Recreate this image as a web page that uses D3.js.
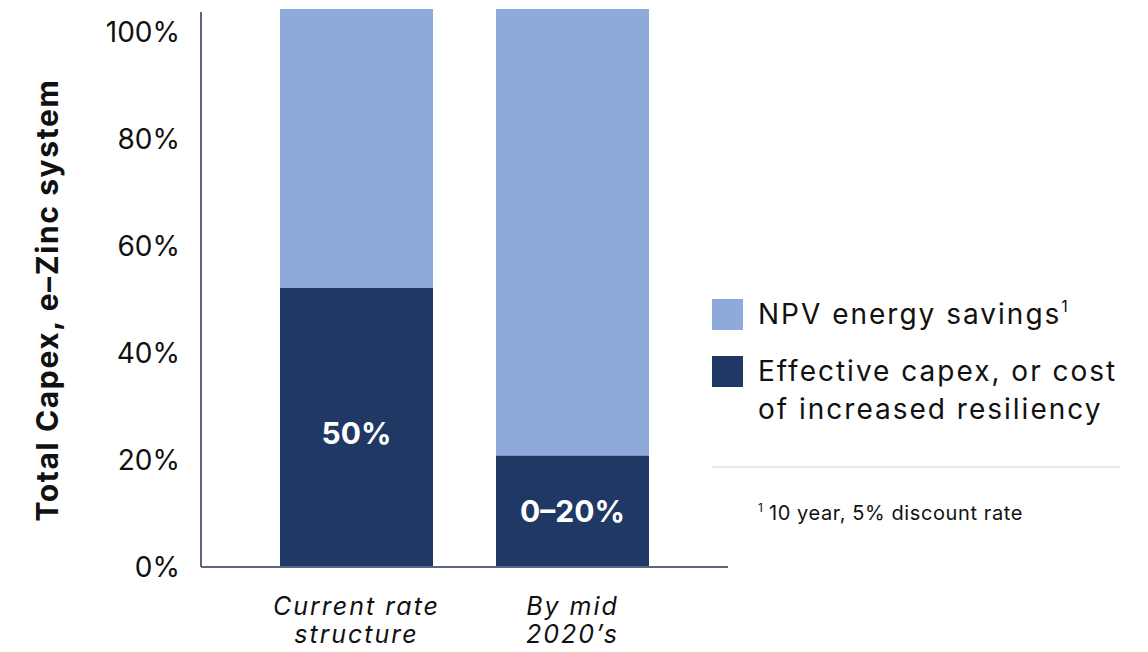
<!DOCTYPE html>
<html>
<head>
<meta charset="utf-8">
<script src="https://cdn.jsdelivr.net/npm/d3@7"></script>
<style>
  html, body { margin: 0; padding: 0; background: #fff; }
  svg { display: block; font-family: "Inter", "Open Sans", sans-serif; }
</style>
</head>
<body>
<svg id="chart" width="1148" height="652"></svg>
<script>
// Share of total e-Zinc system capex, per scenario
const categories = [["Current rate", "structure"], ["By mid", "2020\u2019s"]];
const capexShare = [50, 20];          // effective capex (dark)
const savingsShare = [50, 80];        // NPV energy savings (light)
const barLabels = ["50%", "0\u201320%"];
const tickValues = [0, 20, 40, 60, 80, 100];
const legendItems = [
  { key: "savings", lines: ["NPV energy savings"], sup: "1" },
  { key: "capex", lines: ["Effective capex, or cost", "of increased resiliency"] }
];
const footnote = "10 year, 5% discount rate";
const yTitle = "Total Capex, e\u2013Zinc system";

const colors = { savings: "#8eaadb", capex: "#203864" };
const axisColor = "#5a6684";

const svg = d3.select("#chart");

const plot = { left: 201, right: 728, bottom: 567, top: 9 };

const x = d3.scaleBand()
  .domain(d3.range(categories.length))
  .range([280, 649])
  .paddingInner(63 / 216)
  .paddingOuter(0);

// bars fill the full plot height
const yBar = d3.scaleLinear().domain([0, 100]).range([plot.bottom, plot.top]);
// tick labels run on their own slightly shorter scale
const yTick = d3.scaleLinear().domain([0, 100]).range([567.5, 33]);

const stacked = categories.map((c, i) => ({
  index: i,
  segments: [
    { key: "capex", y0: 0, y1: capexShare[i] },
    { key: "savings", y0: capexShare[i], y1: capexShare[i] + savingsShare[i] }
  ]
}));

const groups = svg.selectAll("g.bar")
  .data(stacked)
  .join("g")
  .attr("class", "bar")
  .attr("transform", d => `translate(${x(d.index)},0)`);

groups.selectAll("rect")
  .data(d => d.segments)
  .join("rect")
  .attr("x", 0)
  .attr("width", x.bandwidth())
  .attr("y", d => yBar(d.y1))
  .attr("height", d => yBar(d.y0) - yBar(d.y1))
  .attr("fill", d => colors[d.key]);

// value labels inside the dark segment
svg.selectAll("text.val")
  .data(capexShare)
  .join("text")
  .attr("class", "val")
  .attr("x", (d, i) => x(i) + x.bandwidth() / 2)
  .attr("y", d => (yBar(0) + yBar(d)) / 2 + (d > 30 ? 6 : 0))
  .attr("dy", "0.36em")
  .attr("text-anchor", "middle")
  .attr("fill", "#fff")
  .attr("font-weight", 700)
  .attr("font-size", 30)
  .text((d, i) => barLabels[i]);

// y axis labels
const yAxis = d3.axisLeft(yTick)
  .tickValues(tickValues)
  .tickSize(0)
  .tickPadding(21)
  .tickFormat(d => d + "%");

const gy = svg.append("g")
  .attr("transform", `translate(${plot.left},0)`)
  .call(yAxis);
gy.select(".domain").remove();
gy.selectAll("text")
  .attr("font-size", 28)
  .attr("font-family", "Inter, sans-serif")
  .attr("fill", "#111");

// axis lines
svg.append("line")
  .attr("x1", plot.left).attr("x2", plot.left)
  .attr("y1", 12).attr("y2", plot.bottom)
  .attr("stroke", axisColor).attr("stroke-width", 2);
svg.append("line")
  .attr("x1", plot.left).attr("x2", plot.right)
  .attr("y1", plot.bottom).attr("y2", plot.bottom)
  .attr("stroke", axisColor).attr("stroke-width", 2);

// category labels
categories.forEach((lines, i) => {
  const cx = x(i) + x.bandwidth() / 2;
  const t = svg.append("text")
    .attr("x", cx)
    .attr("y", 615)
    .attr("text-anchor", "middle")
    .attr("font-style", "italic")
    .attr("font-size", 25)
    .attr("letter-spacing", 2)
    .attr("fill", "#111");
  lines.forEach((l, j) => {
    t.append("tspan")
      .attr("x", cx)
      .attr("dy", j === 0 ? 0 : 28)
      .text(l);
  });
});

// y title
svg.append("text")
  .attr("transform", "translate(58,300) rotate(-90)")
  .attr("text-anchor", "middle")
  .attr("font-weight", 700)
  .attr("font-size", 30)
  .attr("letter-spacing", 1.6)
  .attr("fill", "#111")
  .text(yTitle);

// legend
const legendY = [299, 356];
legendItems.forEach((item, i) => {
  svg.append("rect")
    .attr("x", 712).attr("y", legendY[i])
    .attr("width", 31).attr("height", 31)
    .attr("fill", colors[item.key]);
  const t = svg.append("text")
    .attr("x", 758)
    .attr("y", legendY[i] + 25)
    .attr("font-size", 28)
    .attr("letter-spacing", 2)
    .attr("fill", "#111");
  item.lines.forEach((l, j) => {
    t.append("tspan").attr("x", 758).attr("dy", j === 0 ? 0 : 38).text(l);
  });
  if (item.sup) {
    t.append("tspan")
      .attr("dy", -12)
      .attr("font-size", 16)
      .attr("letter-spacing", 0)
      .text(item.sup);
  }
});

svg.append("line")
  .attr("x1", 712).attr("x2", 1120)
  .attr("y1", 467).attr("y2", 467)
  .attr("stroke", "#e3e3e3").attr("stroke-width", 1.5);

const fn = svg.append("text")
  .attr("x", 758).attr("y", 520)
  .attr("font-size", 20)
  .attr("fill", "#111");
fn.append("tspan").attr("font-size", 12).attr("dy", -8).text("1");
fn.append("tspan").attr("dy", 8).attr("dx", 6).attr("letter-spacing", 0.6).text(footnote);
</script>
</body>
</html>
